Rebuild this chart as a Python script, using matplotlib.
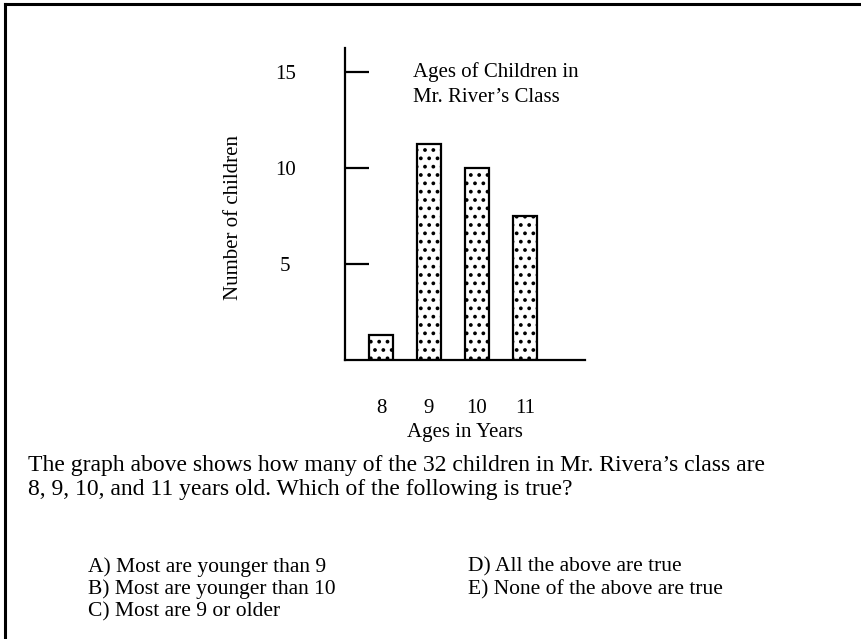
import matplotlib
matplotlib.use("Agg")
import matplotlib.pyplot as plt
from matplotlib.lines import Line2D

# Data
ages = [8, 9, 10, 11]
age_labels = ["8", "9", "10", "11"]
counts = [1.3, 11.25, 10.0, 7.5]
y_ticks = [5, 10, 15]
y_tick_labels = ["5", "10", "15"]

title_lines = ["Ages of Children in", "Mr. River\u2019s Class"]
question_lines = [
    "The graph above shows how many of the 32 children in Mr. Rivera\u2019s class are",
    "8, 9, 10, and 11 years old. Which of the following is true?",
]
choices_left = ["A) Most are younger than 9", "B) Most are younger than 10", "C) Most are 9 or older"]
choices_right = ["D) All the above are true", "E) None of the above are true"]

W, H = 861, 639
DPI = 100
plt.rcParams["font.family"] = ["Liberation Serif", "DejaVu Serif"]
plt.rcParams["hatch.linewidth"] = 1.5
FS = 15
FS_TEXT = 17
FS_CHOICE = 15.5

fig = plt.figure(figsize=(W / DPI, H / DPI), dpi=DPI)


def fx(px):
    return px / W


def fy(py):
    return 1 - py / H


# Axes placed in pixel terms: spine at x=345, baseline at y=360, top at y=48
ax_left, ax_right, ax_bottom, ax_top = 345, 585, 360, 48
ax = fig.add_axes([fx(ax_left), fy(ax_bottom), fx(ax_right - ax_left), (ax_bottom - ax_top) / H])
ax.bar(ages, counts, width=0.5, facecolor="white", edgecolor="black", linewidth=1.6, hatch="..")
ax.set_xlim(7.25, 12.25)
ax.set_ylim(0, 16.25)

for side in ("top", "right"):
    ax.spines[side].set_visible(False)
for side in ("left", "bottom"):
    ax.spines[side].set_linewidth(1.6)

ax.set_yticks(y_ticks)
ax.set_yticklabels(y_tick_labels, fontsize=FS)
ax.tick_params(axis="y", direction="in", length=17, width=1.6, pad=43)
for lab in ax.get_yticklabels():
    lab.set_horizontalalignment("center")

ax.set_xticks(ages)
ax.set_xticklabels(age_labels, fontsize=FS)
ax.tick_params(axis="x", length=0, pad=28)

ax.set_xlabel("Ages in Years", fontsize=FS, labelpad=4)
fig.text(fx(233), fy(218), "Number of children", rotation=90, ha="center", va="center", fontsize=FS)

for i, line in enumerate(title_lines):
    fig.text(fx(413), fy(72 + 26 * i), line, ha="left", va="center", fontsize=FS)

for i, line in enumerate(question_lines):
    fig.text(fx(28), fy(465 + 25 * i), line, ha="left", va="center", fontsize=FS_TEXT)

for i, line in enumerate(choices_left):
    fig.text(fx(88), fy(567 + 22.5 * i), line, ha="left", va="center", fontsize=FS_CHOICE)
for i, line in enumerate(choices_right):
    fig.text(fx(468), fy(567 + 22.5 * i), line, ha="left", va="center", fontsize=FS_CHOICE)

# Frame around the question (open at the bottom and right)
fig.add_artist(Line2D([fx(5), fx(5)], [fy(4), 0], color="black", linewidth=2.2))
fig.add_artist(Line2D([fx(5), 1], [fy(4), fy(4)], color="black", linewidth=2.2))

fig.savefig("out.png", dpi=DPI)
